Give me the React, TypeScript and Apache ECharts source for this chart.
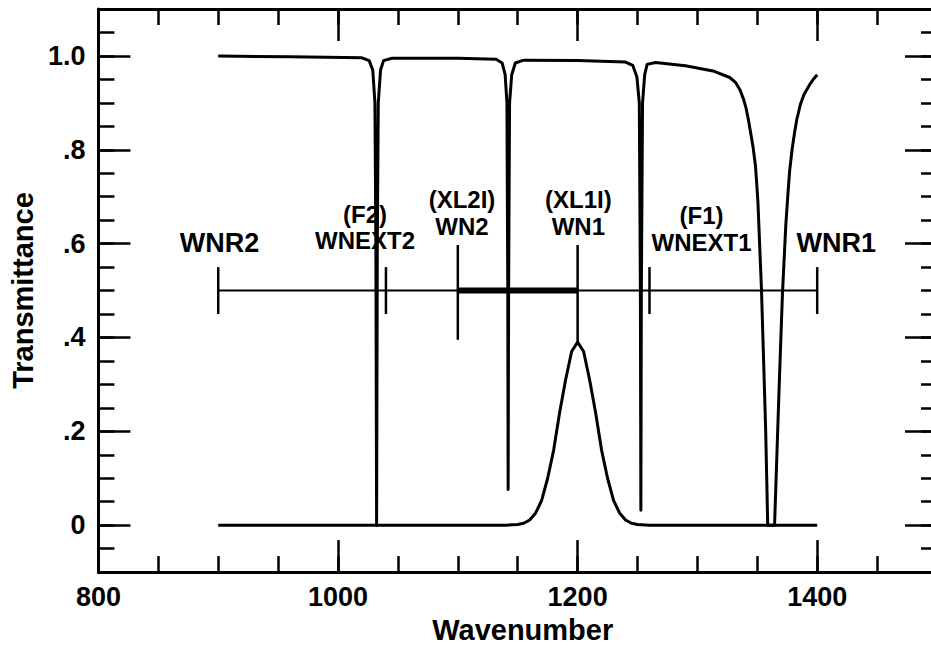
import React, { useEffect, useRef } from 'react';
import * as echarts from 'echarts';

// ---- axis ticks / labels ----
const xMajorTicks = [1000, 1200, 1400];
const xLabelValues = [800, 1000, 1200, 1400];
const yMajorTicks = [0, 0.2, 0.4, 0.6, 0.8, 1.0];
const yLabelText = ['0', '.2', '.4', '.6', '.8', '1.0'];

// ---- transmittance curve (upper) ----
const transWavenumber = [
  900, 960, 1020, 1026, 1029, 1030.8, 1031.6, 1032.2, 1032.8, 1033.6, 1035.5, 1038, 1045,
  1100, 1132, 1137, 1139.5, 1141, 1141.7, 1142, 1142.4, 1143.2, 1145, 1148, 1155,
  1200, 1240, 1246, 1249.5, 1251.5, 1252.4, 1252.8, 1253.2, 1254.2, 1256, 1258, 1265,
  1290, 1313, 1327, 1332, 1335.5, 1338.5, 1340.5, 1342.5, 1344.5, 1346.5, 1348.5, 1350.5,
  1353.5, 1355.5, 1357, 1358.7,
  1364.4, 1367, 1368.5, 1371, 1373.8, 1375.4, 1377, 1379, 1381, 1383, 1386, 1389, 1394, 1397, 1400,
];
const transValue = [
  1.0, 0.998, 0.996, 0.99, 0.97, 0.9, 0.6, 0.0, 0.6, 0.9, 0.97, 0.99, 0.995,
  0.995, 0.993, 0.985, 0.96, 0.9, 0.5, 0.076, 0.5, 0.9, 0.96, 0.985, 0.991,
  0.99, 0.987, 0.98, 0.955, 0.9, 0.5, 0.032, 0.5, 0.9, 0.96, 0.982, 0.986,
  0.979, 0.968, 0.954, 0.943, 0.928, 0.908, 0.89, 0.865, 0.835, 0.805, 0.765, 0.69,
  0.5, 0.33, 0.2, 0.0,
  0.0, 0.2, 0.314, 0.494, 0.64, 0.7, 0.755, 0.8, 0.835, 0.865, 0.897, 0.918, 0.94, 0.951, 0.96,
];

// ---- response curve (lower) ----
const respWavenumber = [
  900, 1140, 1150, 1155, 1160, 1165, 1170, 1175, 1180, 1185, 1190, 1195, 1200,
  1205, 1210, 1215, 1220, 1225, 1230, 1235, 1240, 1245, 1250, 1260, 1400,
];
const respValue = [
  0, 0, 0.0015, 0.004, 0.011, 0.026, 0.053, 0.1, 0.16, 0.24, 0.31, 0.37, 0.39,
  0.37, 0.31, 0.24, 0.16, 0.1, 0.053, 0.026, 0.011, 0.004, 0.0015, 0, 0,
];

// ---- range markers ----
const rangeEnds = [900, 1400];
const rangeLevel = 0.5;
const bandEnds = [1100, 1200];
const markerX = [900, 1040, 1100, 1200, 1260, 1400];
const markerLow = [0.45, 0.45, 0.395, 0.39, 0.45, 0.45];
const markerHigh = [0.55, 0.55, 0.597, 0.597, 0.55, 0.55];

// ---- annotation labels (one entry per text line) ----
const labelText = ['WNR2', '(F2)', 'WNEXT2', '(XL2I)', 'WN2', '(XL1I)', 'WN1', '(F1)', 'WNEXT1', 'WNR1'];
const labelX = [901, 1022.5, 1022.5, 1103.5, 1103.5, 1200.6, 1200.6, 1303.4, 1303.4, 1416];
const labelY = [0.602, 0.663, 0.606, 0.694, 0.637, 0.694, 0.637, 0.659, 0.602, 0.602];
const labelSize = [27, 24, 24, 24, 24, 24, 24, 24, 24, 27];

const FONT = '"Liberation Sans", Arial, Helvetica, sans-serif';
const BLACK = '#000';

export default function App() {
  const ref = useRef<HTMLDivElement>(null);

  useEffect(() => {
    if (!ref.current) return;
    const chart = echarts.init(ref.current, undefined, { renderer: 'svg' });

    const axisLine = { show: true, onZero: false, lineStyle: { color: BLACK, width: 3 } };
    const tickStyle = { color: BLACK, width: 2.5 };
    const labelStyle = { fontFamily: FONT, fontWeight: 'bold' as const, fontSize: 27, color: BLACK };

    const shortX = (position: 'top' | 'bottom') => ({
      type: 'value', position, min: 800, max: 1500, interval: 50,
      axisLine, axisTick: { show: true, inside: true, length: 16, lineStyle: tickStyle },
      axisLabel: { show: false }, splitLine: { show: false },
    });
    const longX = (position: 'top' | 'bottom', withLabels: boolean) => ({
      type: 'value', position, min: 800, max: 1500,
      axisLine: { show: false, onZero: false },
      axisTick: { show: true, inside: true, length: 32, customValues: xMajorTicks, lineStyle: tickStyle },
      axisLabel: withLabels
        ? { show: true, customValues: xLabelValues, margin: 11, ...labelStyle, formatter: (v: number) => String(v) }
        : { show: false },
      splitLine: { show: false },
      ...(withLabels
        ? {
            name: 'Wavenumber', nameLocation: 'middle', nameGap: 32,
            nameTextStyle: { ...labelStyle, fontSize: 29, padding: [0, 0, 0, 10] },
          }
        : {}),
    });
    const shortY = (position: 'left' | 'right') => ({
      type: 'value', position, min: -0.1, max: 1.1, interval: 0.05,
      axisLine, axisTick: { show: true, inside: true, length: 16, lineStyle: tickStyle },
      axisLabel: { show: false }, splitLine: { show: false },
    });
    const longY = (position: 'left' | 'right', withLabels: boolean) => ({
      type: 'value', position, min: -0.1, max: 1.1,
      axisLine: { show: false, onZero: false },
      axisTick: { show: true, inside: true, length: 32, customValues: yMajorTicks, lineStyle: tickStyle },
      axisLabel: withLabels
        ? {
            show: true, customValues: yMajorTicks, margin: 13, ...labelStyle,
            formatter: (v: number) => {
              let best = 0;
              yMajorTicks.forEach((t, i) => { if (Math.abs(t - v) < Math.abs(yMajorTicks[best] - v)) best = i; });
              return yLabelText[best];
            },
          }
        : { show: false },
      splitLine: { show: false },
      ...(withLabels
        ? {
            name: 'Transmittance', nameLocation: 'middle', nameRotate: 90, nameGap: 54,
            nameTextStyle: { ...labelStyle, fontSize: 29 },
          }
        : {}),
    });

    const lineSeries = (data: number[][], width: number) => ({
      type: 'line', data, symbol: 'none', silent: true, animation: false,
      lineStyle: { color: BLACK, width, cap: 'butt', join: 'round' },
      itemStyle: { color: BLACK },
    });

    const option: any = {
      animation: false,
      backgroundColor: '#fff',
      grid: { left: 94, top: 9, width: 843, height: 568, containLabel: false },
      xAxis: [shortX('bottom'), longX('bottom', true), shortX('top'), longX('top', false)],
      yAxis: [shortY('left'), longY('left', true), shortY('right'), longY('right', false)],
      series: [
        lineSeries(transWavenumber.map((x, i) => [x, transValue[i]]), 3),
        lineSeries(respWavenumber.map((x, i) => [x, respValue[i]]), 3),
        lineSeries(rangeEnds.map((x) => [x, rangeLevel]), 2),
        lineSeries(bandEnds.map((x) => [x, rangeLevel]), 6),
        {
          type: 'custom', silent: true,
          data: markerX.map((x, i) => [x, markerLow[i], markerHigh[i]]),
          renderItem: (_p: any, api: any) => {
            const a = api.coord([api.value(0), api.value(1)]);
            const b = api.coord([api.value(0), api.value(2)]);
            return {
              type: 'line',
              shape: { x1: a[0], y1: a[1], x2: b[0], y2: b[1] },
              style: { stroke: BLACK, lineWidth: 2.5 },
            };
          },
        },
        {
          type: 'scatter', silent: true, symbolSize: 0,
          itemStyle: { color: BLACK, opacity: 1 },
          data: labelText.map((t, i) => ({
            name: t, value: [labelX[i], labelY[i]],
            label: { fontSize: labelSize[i] },
          })),
          label: {
            show: true, position: [0, 0], formatter: '{b}',
            fontFamily: FONT, fontWeight: 'bold', color: BLACK, opacity: 1,
            align: 'center', verticalAlign: 'middle', textBorderWidth: 0,
          },
        },
      ],
    };

    chart.setOption(option);
    return () => chart.dispose();
  }, []);

  // wider than the 931px window on purpose: the right axis (1500) lies just outside the view
  return (
    <div
      ref={ref}
      style={{ position: 'fixed', left: 0, top: 0, width: 950, height: 649, background: '#fff' }}
    />
  );
}
